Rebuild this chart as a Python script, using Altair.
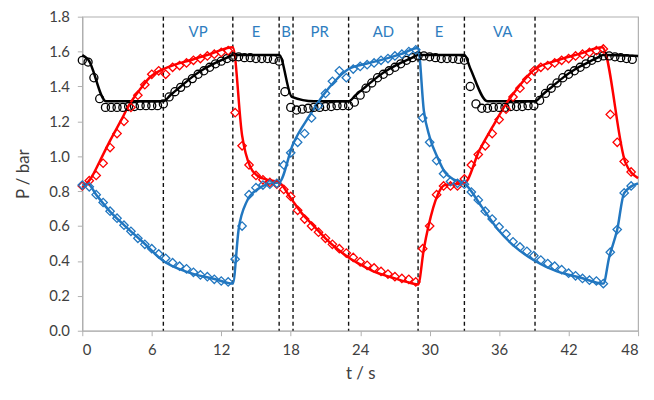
import altair as alt
import numpy as np
import pandas as pd

# ---------------- data ----------------
# model (lines) breakpoints
black_line_t = [0, 0.5, 2.05, 7, 7.6, 8.5, 9.5, 10.5, 11.5, 12.5, 13, 17, 18.1, 20, 23, 23.6, 24.5, 25.5,
                26.5, 27.5, 28.5, 29, 33, 33.5, 35.0, 39.1, 39.7, 40.6, 41.6, 42.6, 43.6, 44.5, 45, 48]
black_line_p = [1.58, 1.555, 1.315, 1.315, 1.35, 1.40, 1.455, 1.50, 1.535, 1.565, 1.58, 1.58, 1.34, 1.315, 1.315,
                1.35, 1.40, 1.455, 1.50, 1.535, 1.565, 1.58, 1.58, 1.505, 1.315, 1.315, 1.35, 1.40, 1.455,
                1.50, 1.535, 1.565, 1.58, 1.575]

red_line_t = [0, 0.7, 1.5, 2.4, 3.3, 4.1, 5.0, 5.8, 7.0, 8.0, 9.3, 11, 13, 13.8, 14.5, 15.2, 16, 17, 18, 19,
              20, 21, 22, 23, 24, 25, 26, 27, 28, 29, 29.5, 29.9, 30.7, 31.3, 33, 34.3, 35.4, 36.6, 37.7,
              39.1, 40.8, 43.1, 44.9, 46.9, 48]
red_line_p = [0.82, 0.87, 0.97, 1.09, 1.20, 1.30, 1.385, 1.45, 1.50, 1.525, 1.55, 1.585, 1.625, 1.12, 0.94,
              0.885, 0.865, 0.85, 0.76, 0.67, 0.60, 0.53, 0.47, 0.42, 0.38, 0.345, 0.32, 0.30, 0.28, 0.265,
              0.47, 0.60, 0.78, 0.835, 0.845, 1.035, 1.165, 1.30, 1.40, 1.50, 1.545, 1.59, 1.625, 0.965, 0.875]

blue_line_t = [0, 0.5, 1.2, 2.3, 3.7, 5.2, 7, 8.9, 11.5, 13, 13.5, 14.2, 15.1, 16, 17, 18.2, 19.6, 20.8, 21.8,
               23, 24.5, 26, 27.5, 29, 29.5, 30, 30.7, 31.3, 32, 33, 34.5, 35.9, 37.3, 39.1, 41, 43, 45,
               45.5, 46.2, 46.8, 48]
blue_line_p = [0.835, 0.84, 0.78, 0.69, 0.60, 0.51, 0.40, 0.34, 0.295, 0.27, 0.58, 0.74, 0.81, 0.84, 0.85,
               1.07, 1.23, 1.35, 1.43, 1.50, 1.53, 1.555, 1.585, 1.62, 1.26, 1.11, 0.99, 0.91, 0.87, 0.845,
               0.71, 0.58, 0.485, 0.40, 0.34, 0.305, 0.27, 0.42, 0.58, 0.79, 0.845]

# experiment (markers)
circle_t = list(np.round(np.arange(96) * 0.5, 1))
black_pts = [1.55, 1.54, 1.45, 1.33, 1.28, 1.28, 1.28, 1.28, 1.285, 1.285, 1.29, 1.29, 1.29, 1.29, 1.30,
             1.34, 1.37, 1.395, 1.42, 1.445, 1.47, 1.49, 1.51, 1.53, 1.545, 1.56, 1.57, 1.57, 1.565, 1.565,
             1.56, 1.56, 1.56, 1.555, 1.545, 1.37, 1.28, 1.265, 1.27, 1.275, 1.28, 1.28, 1.285, 1.285, 1.29,
             1.29, 1.29, 1.31, 1.35, 1.39, 1.42, 1.45, 1.47, 1.49, 1.51, 1.53, 1.55, 1.565, 1.575, 1.575,
             1.57, 1.565, 1.56, 1.56, 1.56, 1.555, 1.55, 1.40, 1.30, 1.275, 1.275, 1.28, 1.28, 1.28, 1.285,
             1.285, 1.285, 1.29, 1.29, 1.32, 1.36, 1.39, 1.42, 1.45, 1.47, 1.49, 1.51, 1.53, 1.55, 1.565,
             1.575, 1.575, 1.57, 1.565, 1.56, 1.555]

diamond_t = list(np.round(np.arange(80) * 0.6, 1))
red_pts = [0.83, 0.86, 0.89, 0.96, 1.05, 1.13, 1.20, 1.28, 1.35, 1.41, 1.47, 1.49, 1.47, 1.51, 1.52, 1.535,
           1.55, 1.56, 1.575, 1.585, 1.595, 1.605, 1.25, 1.06, 0.95, 0.89, 0.865, 0.85, 0.84, 0.81, 0.77,
           0.69, 0.64, 0.60, 0.565, 0.53, 0.495, 0.47, 0.445, 0.42, 0.395, 0.375, 0.36, 0.34, 0.325, 0.31,
           0.30, 0.295, 0.28, 0.47, 0.60, 0.78, 0.83, 0.83, 0.83, 0.87, 0.95, 1.01, 1.06, 1.13, 1.21, 1.27,
           1.34, 1.39, 1.44, 1.49, 1.51, 1.52, 1.535, 1.55, 1.56, 1.575, 1.585, 1.595, 1.605, 1.615, 1.24,
           1.08, 0.97, 0.91]
blue_pts = [0.835, 0.825, 0.78, 0.735, 0.685, 0.645, 0.605, 0.57, 0.53, 0.495, 0.47, 0.44, 0.415, 0.39,
            0.37, 0.355, 0.335, 0.32, 0.31, 0.295, 0.285, 0.28, 0.41, 0.60, 0.78, 0.82, 0.835, 0.84, 0.845,
            0.95, 1.02, 1.08, 1.13, 1.22, 1.29, 1.36, 1.43, 1.49, 1.45, 1.50, 1.515, 1.525, 1.535, 1.55,
            1.56, 1.575, 1.585, 1.60, 1.61, 1.22, 1.08, 0.975, 0.90, 0.855, 0.845, 0.84, 0.795, 0.75, 0.685,
            0.64, 0.595, 0.555, 0.51, 0.48, 0.455, 0.43, 0.405, 0.385, 0.37, 0.35, 0.33, 0.315, 0.30, 0.29,
            0.285, 0.27, 0.45, 0.58, 0.79, 0.83]

step_t = [7, 13, 17, 18.2, 23, 29, 33, 39.1]
phase_labels = ["VP", "E", "B", "PR", "AD", "E", "VA"]
phase_t = [10.0, 15.0, 17.6, 20.5, 26.0, 30.8, 36.3]
phase_p = [1.71] * len(phase_labels)

x_ticks = [0, 6, 12, 18, 24, 30, 36, 42, 48]

# ---------------- build ----------------
RED = "#ff0000"
BLUE = "#2277c0"
BLACK = "#000000"
FONT = "Lato"
series = ["black", "red", "blue"]
colors = [BLACK, RED, BLUE]

lines = pd.concat([
    pd.DataFrame({"t": black_line_t, "p": black_line_p, "s": "black"}),
    pd.DataFrame({"t": red_line_t, "p": red_line_p, "s": "red"}),
    pd.DataFrame({"t": blue_line_t, "p": blue_line_p, "s": "blue"}),
])
circles = pd.DataFrame({"t": circle_t, "p": black_pts})
diamonds = pd.concat([
    pd.DataFrame({"t": diamond_t, "p": red_pts, "s": "red"}),
    pd.DataFrame({"t": diamond_t, "p": blue_pts, "s": "blue"}),
])
steps = pd.DataFrame({"t": step_t})
phases = pd.DataFrame({"t": phase_t, "p": phase_p, "lab": phase_labels})

xscale = alt.Scale(domain=[0, 48], nice=False, zero=False)
yscale = alt.Scale(domain=[0, 1.8], nice=False)
cscale = alt.Scale(domain=series, range=colors)

xaxis = alt.Axis(values=x_ticks, title="t / s", grid=False, tickSize=5, labelPadding=7,
                 titlePadding=8, format="d")
yaxis = alt.Axis(values=[round(0.2 * i, 1) for i in range(10)], title="P / bar", grid=False,
                 format=".1f", tickSize=5, labelPadding=8, titlePadding=16)

X = alt.X("t:Q", scale=xscale, axis=xaxis)
Y = alt.Y("p:Q", scale=yscale, axis=yaxis)

rules = alt.Chart(steps).mark_rule(color="#111111", strokeDash=[4, 3], strokeWidth=1.4).encode(
    x=alt.X("t:Q", scale=xscale))

line_layer = alt.Chart(lines).mark_line(strokeWidth=2.5, interpolate="monotone").encode(
    x=X, y=Y, color=alt.Color("s:N", scale=cscale, legend=None), detail="s:N")

circle_layer = alt.Chart(circles).mark_point(shape="circle", filled=False, size=66, strokeWidth=1.3,
                                             color=BLACK, opacity=1).encode(x=X, y=Y)

diamond_layer = alt.Chart(diamonds).mark_point(shape="diamond", filled=False, size=72, strokeWidth=1.3,
                                               opacity=1).encode(
    x=X, y=Y, color=alt.Color("s:N", scale=cscale, legend=None))

text_layer = alt.Chart(phases).mark_text(font=FONT, fontSize=15, color="#2e7dc0").encode(
    x=X, y=Y, text="lab:N")

chart = alt.layer(rules, line_layer, circle_layer, diamond_layer, text_layer).properties(
    width=561, height=317,
    autosize=alt.AutoSizeParams(type="none"),
    padding={"left": 75, "top": 7, "right": 8, "bottom": 52},
).configure_view(stroke="#b0b0b0", strokeWidth=1.2).configure_axis(
    domainColor="#b0b0b0", tickColor="#b0b0b0", labelColor="#404040", titleColor="#404040",
    labelFont=FONT, titleFont=FONT, labelFontSize=15, titleFontSize=17, titleFontWeight="normal",
    domainWidth=1.2,
)

chart.save("out.html", embed_options={"renderer": "svg", "actions": False})
